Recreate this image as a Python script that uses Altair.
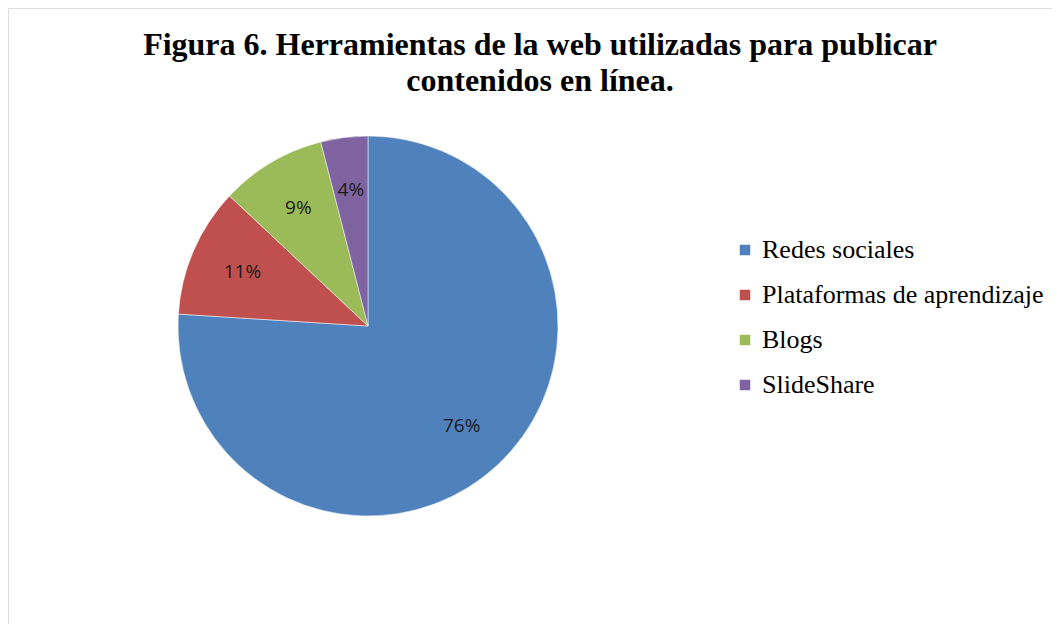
import altair as alt
import pandas as pd

categories = ["\u00a0Redes sociales", "Plataformas de aprendizaje", "Blogs", "SlideShare"]
values = [76, 11, 9, 4]
labels = ["76%", "11%", "9%", "4%"]
colors = ["#4F81BD", "#C0504D", "#9BBB59", "#8064A2"]
title_lines = ["Figura 6. Herramientas de la web utilizadas para publicar", "contenidos en línea."]

df = pd.DataFrame({"cat": categories, "val": values, "lab": labels, "idx": list(range(len(values)))})

W, H = 1044, 616
CX, CY, R = 360, 318, 190

base = alt.Chart(df).encode(
    theta=alt.Theta("val:Q", stack=True),
    order=alt.Order("idx:Q"),
)

pie = base.mark_arc(radius=R, stroke="#ffffff", strokeWidth=0.5).encode(
    x=alt.value(CX), y=alt.value(CY),
    color=alt.Color("cat:N",
                    scale=alt.Scale(domain=categories, range=colors),
                    legend=alt.Legend(title=None, orient="none", legendX=724, legendY=229,
                                      symbolType="square", symbolSize=110,
                                      labelFont="Liberation Serif", labelFontSize=26,
                                      labelOffset=4,
                                      labelColor="#000000", rowPadding=19, labelLimit=400,
                                      symbolStrokeWidth=0)),
)

text = base.mark_text(radius=R * 0.72, font="Open Sans", fontSize=19, color="#1a1a1a").encode(
    x=alt.value(CX), y=alt.value(CY), text="lab:N"
)

tdf = pd.DataFrame({"t": [title_lines]})
title = alt.Chart(tdf).mark_text(font="Liberation Serif", fontWeight="bold", fontSize=32,
                                 lineHeight=36, baseline="top", align="center", color="#000000").encode(
    x=alt.value(532), y=alt.value(22), text="t"
)

chart = alt.layer(pie, text, title).properties(
    width=W, height=H, padding=0,
    autosize=alt.AutoSizeParams(type="fit", contains="padding"),
).configure_view(stroke="#8c8c8c", strokeWidth=2).configure(background="#ffffff")

chart.save("out.html", embed_options={"renderer": "svg", "actions": False})
